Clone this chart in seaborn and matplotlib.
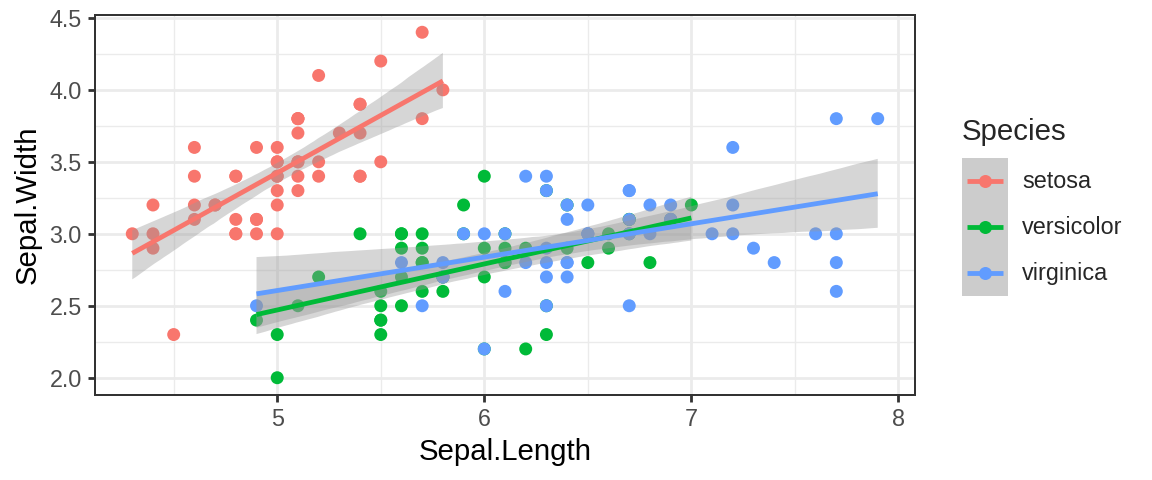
import numpy as np
import pandas as pd
import matplotlib
matplotlib.use("Agg")
import matplotlib.pyplot as plt
import seaborn as sns
from matplotlib.lines import Line2D
from matplotlib.patches import Rectangle
from matplotlib.legend_handler import HandlerBase
from matplotlib.ticker import MultipleLocator

species_names = ["setosa", "versicolor", "virginica"]
species_colors = ["#F8766D", "#00BA38", "#619CFF"]

setosa_length = [5.1,4.9,4.7,4.6,5.0,5.4,4.6,5.0,4.4,4.9,5.4,4.8,4.8,4.3,5.8,5.7,5.4,5.1,5.7,5.1,
                 5.4,5.1,4.6,5.1,4.8,5.0,5.0,5.2,5.2,4.7,4.8,5.4,5.2,5.5,4.9,5.0,5.5,4.9,4.4,5.1,
                 5.0,4.5,4.4,5.0,5.1,4.8,5.1,4.6,5.3,5.0]
setosa_width = [3.5,3.0,3.2,3.1,3.6,3.9,3.4,3.4,2.9,3.1,3.7,3.4,3.0,3.0,4.0,4.4,3.9,3.5,3.8,3.8,
                3.4,3.7,3.6,3.3,3.4,3.0,3.4,3.5,3.4,3.2,3.1,3.4,4.1,4.2,3.1,3.2,3.5,3.6,3.0,3.4,
                3.5,2.3,3.2,3.5,3.8,3.0,3.8,3.2,3.7,3.3]
versicolor_length = [7.0,6.4,6.9,5.5,6.5,5.7,6.3,4.9,6.6,5.2,5.0,5.9,6.0,6.1,5.6,6.7,5.6,5.8,6.2,5.6,
                     5.9,6.1,6.3,6.1,6.4,6.6,6.8,6.7,6.0,5.7,5.5,5.5,5.8,6.0,5.4,6.0,6.7,6.3,5.6,5.5,
                     5.5,6.1,5.8,5.0,5.6,5.7,5.7,6.2,5.1,5.7]
versicolor_width = [3.2,3.2,3.1,2.3,2.8,2.8,3.3,2.4,2.9,2.7,2.0,3.0,2.2,2.9,2.9,3.1,3.0,2.7,2.2,2.5,
                    3.2,2.8,2.5,2.8,2.9,3.0,2.8,3.0,2.9,2.6,2.4,2.4,2.7,2.7,3.0,3.4,3.1,2.3,3.0,2.5,
                    2.6,3.0,2.6,2.3,2.7,3.0,2.9,2.9,2.5,2.8]
virginica_length = [6.3,5.8,7.1,6.3,6.5,7.6,4.9,7.3,6.7,7.2,6.5,6.4,6.8,5.7,5.8,6.4,6.5,7.7,7.7,6.0,
                    6.9,5.6,7.7,6.3,6.7,7.2,6.2,6.1,6.4,7.2,7.4,7.9,6.4,6.3,6.1,7.7,6.3,6.4,6.0,6.9,
                    6.7,6.9,5.8,6.8,6.7,6.7,6.3,6.5,6.2,5.9]
virginica_width = [3.3,2.7,3.0,2.9,3.0,3.0,2.5,2.9,2.5,3.6,3.2,2.7,3.0,2.5,2.8,3.2,3.0,3.8,2.6,2.2,
                   3.2,2.8,2.8,2.7,3.3,3.2,2.8,3.0,2.8,3.0,2.8,3.8,2.8,2.8,2.6,3.0,3.4,3.1,3.0,3.1,
                   3.1,3.1,2.7,3.2,3.3,3.0,2.5,3.0,3.4,3.0]

df = pd.DataFrame({
    "Sepal.Length": setosa_length + versicolor_length + virginica_length,
    "Sepal.Width": setosa_width + versicolor_width + virginica_width,
    "Species": ["setosa"] * 50 + ["versicolor"] * 50 + ["virginica"] * 50,
})

sns.set_style("white")
plt.rcParams["font.family"] = ["Liberation Sans", "DejaVu Sans"]

fig = plt.figure(figsize=(8, 480 / 144), dpi=144)
ax = fig.add_axes([95 / 1152, 1 - 395 / 480, (915 - 95) / 1152, (395 - 15) / 480])

palette = dict(zip(species_names, species_colors))
sns.scatterplot(data=df, x="Sepal.Length", y="Sepal.Width", hue="Species",
                palette=palette, s=42, edgecolor="none", linewidth=0,
                legend=False, ax=ax, zorder=2)

for name, col in zip(species_names, species_colors):
    sub = df[df["Species"] == name]
    n_before = len(ax.collections)
    sns.regplot(data=sub, x="Sepal.Length", y="Sepal.Width", scatter=False,
                ci=95, n_boot=2000, seed=1, truncate=True, color=col,
                line_kws=dict(lw=2.4, color=col, zorder=4, solid_capstyle="butt"), ax=ax)
    for c in ax.collections[n_before:]:
        c.set_alpha(None)
        c.set_facecolor((0.6, 0.6, 0.6, 0.4))
        c.set_edgecolor("none")
        c.set_zorder(3)

ax.set_xlim(4.12, 8.08)
ax.set_ylim(1.88, 4.52)
ax.xaxis.set_minor_locator(MultipleLocator(0.5))
ax.yaxis.set_minor_locator(MultipleLocator(0.25))
ax.set_xticks([5, 6, 7, 8])
ax.set_xticklabels(["5", "6", "7", "8"])
ax.set_yticks([2.0, 2.5, 3.0, 3.5, 4.0, 4.5])
ax.set_yticklabels(["2.0", "2.5", "3.0", "3.5", "4.0", "4.5"])

ax.grid(which="major", color="#EBEBEB", lw=1.4, zorder=0)
ax.grid(which="minor", color="#EBEBEB", lw=0.7, zorder=0)
ax.set_axisbelow(True)
for s in ax.spines.values():
    s.set_color("#333333")
    s.set_linewidth(1.0)
ax.tick_params(which="major", length=3.67, width=1.4, color="#333333",
               labelsize=11.7, labelcolor="#4D4D4D", pad=2.9,
               bottom=True, left=True)
ax.tick_params(which="minor", length=0, bottom=False, left=False)

ax.set_xlabel("Sepal.Length", fontsize=14.67, color="black", labelpad=3.5)
ax.set_ylabel("Sepal.Width", fontsize=14.67, color="black", labelpad=4)


class KeyHandler(HandlerBase):
    def create_artists(self, legend, orig_handle, xdescent, ydescent,
                       width, height, fontsize, trans):
        col = orig_handle.get_color()
        rect = Rectangle((-xdescent, -ydescent), width, height,
                         facecolor="#CCCCCC", edgecolor="none", transform=trans)
        yc = -ydescent + height / 2
        line = Line2D([-xdescent + 0.1 * width, -xdescent + 0.9 * width], [yc, yc],
                      color=col, lw=2.4, solid_capstyle="butt", transform=trans)
        dot = Line2D([-xdescent + 0.5 * width], [yc], marker="o", markersize=6.5,
                     markeredgewidth=0, color=col, linestyle="none", transform=trans)
        return [rect, line, dot]


handles = [Line2D([], [], color=col) for col in species_colors]
fs = 11.7
leg = fig.legend(handles, species_names, title="Species",
                 handler_map={Line2D: KeyHandler()},
                 loc="upper left", bbox_to_anchor=(962 / 1152, 1 - 118 / 480),
                 frameon=False, fontsize=fs, title_fontsize=14.67,
                 handlelength=1.966, handleheight=2.647, labelspacing=0,
                 handletextpad=0.6, borderpad=0, borderaxespad=0,
                 alignment="left")
leg._legend_box.sep = 6

fig.savefig("out.png", dpi=144, facecolor="white")
